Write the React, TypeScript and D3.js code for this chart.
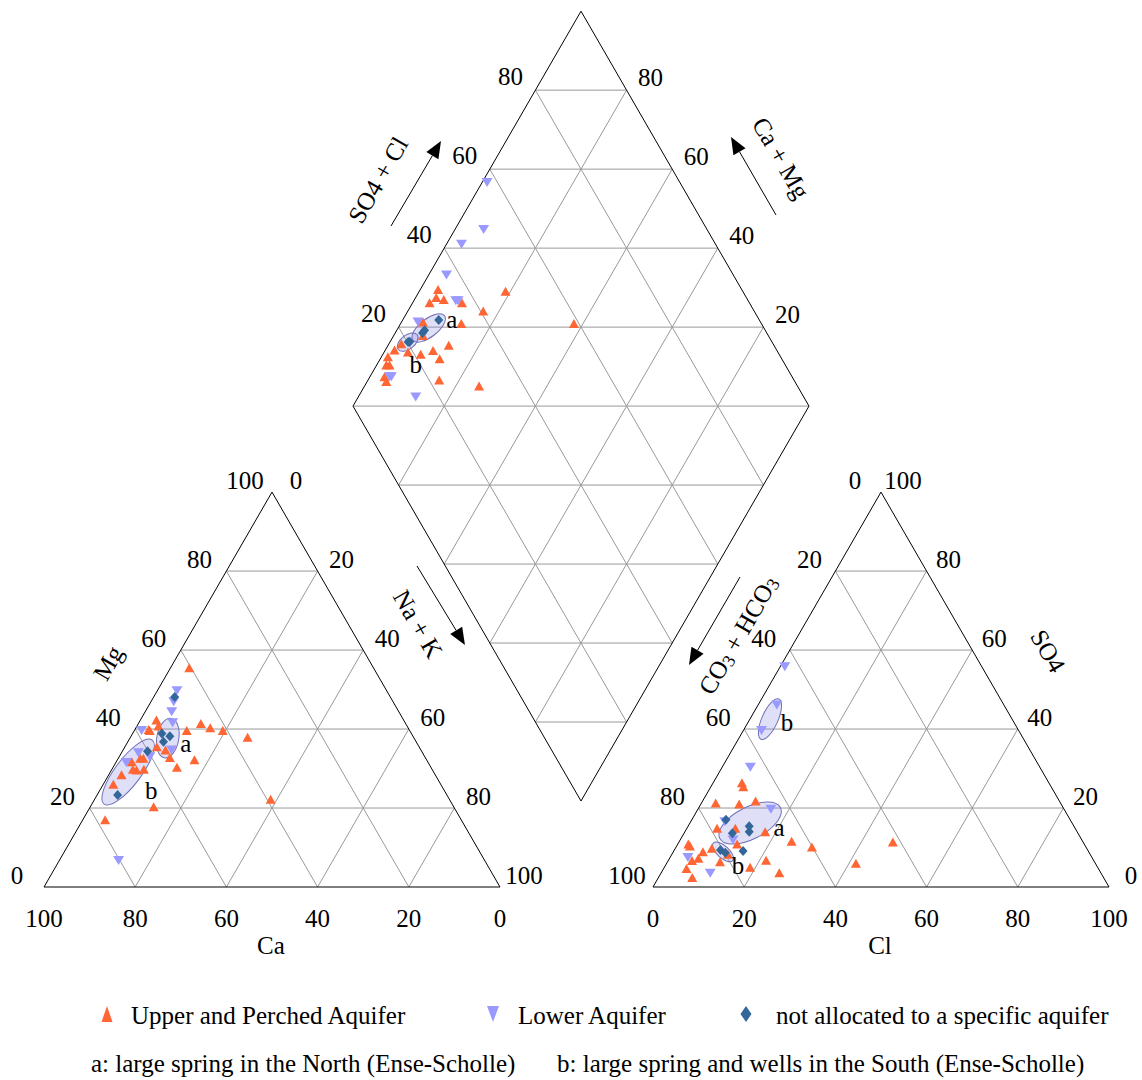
import React from 'react';
import * as d3 from 'd3';

// ---------------- DATA ----------------
const tickValues = [0, 20, 40, 60, 80, 100];
const gridValues = [20, 40, 60, 80];
const diamondTicks = [20, 40, 60, 80];

// Cation triangle points: [Ca %, Mg %]
const cationUpper: [number, number][] = [
  [40.4, 55.5], [44.9, 41.4], [43.4, 40.3], [41.0, 39.6], [36.4, 37.9], [48.9, 39.6],
  [54.2, 42.3], [54.5, 40.8], [57.1, 39.9], [57.0, 39.6], [57.5, 35.5], [56.0, 34.7],
  [56.0, 32.8], [50.9, 32.2], [55.7, 30.3], [62.6, 32.6], [61.9, 32.6], [64.9, 31.7],
  [65.6, 29.8], [64.9, 29.6], [63.2, 29.8], [68.8, 28.4], [71.8, 26.0], [65.8, 20.3],
  [78.1, 17.0], [39.2, 22.2],
];
const cationLower: [number, number][] = [
  [46.0, 49.7], [48.1, 46.9], [49.8, 44.4], [51.0, 41.6], [58.8, 39.6], [54.7, 34.7],
  [60.3, 33.0], [62.3, 34.0], [66.2, 31.5], [80.3, 6.7],
];
const cationUnallocated: [number, number][] = [
  [47.3, 48.1], [54.7, 38.9], [53.3, 38.2], [55.4, 36.8], [60.1, 34.4], [72.2, 23.3],
];

// Anion triangle points: [Cl %, SO4 %]
const anionUpper: [number, number][] = [
  [6.3, 26.4], [7.1, 25.4], [3.1, 21.3], [8.4, 21.0], [11.6, 21.8], [6.6, 14.9],
  [10.6, 14.9], [17.6, 14.0], [24.6, 11.6], [29.8, 10.1], [46.9, 11.4], [13.0, 10.9],
  [8.0, 9.8], [6.5, 8.9], [2.3, 10.9], [2.9, 10.4], [6.3, 7.3], [5.2, 6.7],
  [5.0, 4.7], [12.3, 8.3], [11.5, 6.4], [21.4, 6.8], [18.8, 5.0], [25.9, 3.6],
  [41.5, 6.0], [7.4, 2.4],
];
const anionLower: [number, number][] = [
  [1.0, 55.8], [4.1, 46.1], [4.0, 39.6], [6.2, 30.3], [16.0, 19.7], [7.5, 16.5],
  [11.6, 11.9], [3.9, 7.5], [10.8, 3.5],
];
const anionUnallocated: [number, number][] = [
  [7.5, 17.0], [13.4, 15.4], [14.1, 14.0], [10.6, 13.6], [10.1, 9.4], [11.5, 8.7], [15.2, 9.1],
];

// Diamond points: [SO4+Cl %, Ca+Mg %]
const diamondUpper: [number, number][] = [
  [33.4, 96.1], [32.0, 95.5], [33.4, 93.6], [29.9, 96.3], [37.0, 89.2], [48.0, 81.1],
  [40.6, 83.5], [34.2, 86.7], [58.9, 62.0], [26.0, 95.3], [24.3, 93.6], [18.5, 97.3],
  [16.2, 98.0], [18.9, 94.8], [21.4, 91.7], [24.6, 89.5], [28.7, 86.7], [25.0, 87.0],
  [13.9, 98.6], [12.5, 97.9], [13.2, 97.2], [10.6, 96.8], [10.4, 95.8], [22.2, 84.4],
  [30.2, 74.9],
];
const diamondLower: [number, number][] = [
  [57.7, 98.9], [51.0, 93.7], [44.3, 96.7], [37.1, 96.1], [35.9, 90.8], [36.4, 90.3],
  [24.9, 96.4], [11.7, 95.7], [12.1, 95.3], [14.9, 87.4],
];
const diamondUnallocated: [number, number][] = [
  [29.7, 92.1], [25.3, 93.9], [24.5, 94.0], [20.6, 95.7], [20.2, 96.0],
];

// Group outlines (centres in data units)
const cationGroups = [
  { label: 'a', center: [54.0, 37.7] as [number, number] },
  { label: 'b', center: [67.0, 29.1] as [number, number] },
];
const anionGroups = [
  { label: 'b', center: [4.4, 42.5] as [number, number] },
  { label: 'a', center: [13.2, 16.2] as [number, number] },
  { label: 'b', center: [10.9, 8.9] as [number, number] },
];
const diamondGroups = [
  { label: 'a', center: [26.5, 93.3] as [number, number] },
  { label: 'b', center: [20.1, 96.1] as [number, number] },
];

const legendItems = [
  'Upper and Perched Aquifer',
  'Lower Aquifer',
  'not allocated to a specific aquifer',
];
const noteItems = [
  'a: large spring in the North (Ense-Scholle)',
  'b: large spring and wells in the South (Ense-Scholle)',
];

// ---------------- LAYOUT ----------------
const W = 1142;
const HGT = 1080;
const SIDE = 456;
const TH = (SIDE * Math.sqrt(3)) / 2;
const LX0 = 44, LY0 = 887;     // cation triangle bottom-left
const RX0 = 653, RY0 = 887;    // anion triangle bottom-left
const DBX = 581, DBY = 801;    // diamond bottom vertex

const s = d3.scaleLinear().domain([0, 100]).range([0, SIDE]);
const h = d3.scaleLinear().domain([0, 100]).range([0, TH]);

const COL_UP = '#FF6633';
const COL_LOW = '#9999FF';
const COL_UN = '#336699';
const GRID = '#999999';
const FONT = '"Liberation Serif", "Times New Roman", serif';
const FS = 25;

// projections
const cat = (ca: number, mg: number): [number, number] => [LX0 + s(100 - ca - mg / 2), LY0 - h(mg)];
const an = (cl: number, so4: number): [number, number] => [RX0 + s(cl + so4 / 2), RY0 - h(so4)];
const dia = (a: number, c: number): [number, number] => [DBX + (s(a) - s(c)) / 2, DBY - h(a) - h(c)];

const upTri = (x: number, y: number, w = 10, t = 9) =>
  `M${x},${y - t / 2}L${x + w / 2},${y + t / 2}L${x - w / 2},${y + t / 2}Z`;
const downTri = (x: number, y: number, w = 11, t = 9) =>
  `M${x - w / 2},${y - t / 2}L${x + w / 2},${y - t / 2}L${x},${y + t / 2}Z`;
const diam = (x: number, y: number, w = 9, t = 10) =>
  `M${x},${y - t / 2}L${x + w / 2},${y}L${x},${y + t / 2}L${x - w / 2},${y}Z`;

const line = (p: [number, number], q: [number, number], key: string, stroke = GRID, sw = 1) => (
  <line key={key} x1={p[0]} y1={p[1]} x2={q[0]} y2={q[1]} stroke={stroke} strokeWidth={sw} />
);

function Points({ up, low, un, proj }: { up: [number, number][]; low: [number, number][]; un: [number, number][]; proj: (a: number, b: number) => [number, number] }) {
  return (
    <g>
      {up.map((d, i) => { const [x, y] = proj(d[0], d[1]); return <path key={'u' + i} d={upTri(x, y)} fill={COL_UP} />; })}
      {low.map((d, i) => { const [x, y] = proj(d[0], d[1]); return <path key={'l' + i} d={downTri(x, y)} fill={COL_LOW} />; })}
      {un.map((d, i) => { const [x, y] = proj(d[0], d[1]); return <path key={'n' + i} d={diam(x, y)} fill={COL_UN} />; })}
    </g>
  );
}

function Arrow({ from, to }: { from: [number, number]; to: [number, number] }) {
  const ang = Math.atan2(to[1] - from[1], to[0] - from[0]);
  const L = 17, Wd = 7;
  const bx = to[0] - L * Math.cos(ang), by = to[1] - L * Math.sin(ang);
  const px = -Math.sin(ang) * Wd, py = Math.cos(ang) * Wd;
  return (
    <g>
      <line x1={from[0]} y1={from[1]} x2={bx} y2={by} stroke="#000" strokeWidth={1} />
      <path d={`M${to[0]},${to[1]}L${bx + px},${by + py}L${bx - px},${by - py}Z`} fill="#000" />
    </g>
  );
}

const Ell = ({ c, rx, ry, rot }: { c: [number, number]; rx: number; ry: number; rot: number }) => (
  <ellipse cx={0} cy={0} rx={rx} ry={ry} transform={`translate(${c[0]},${c[1]}) rotate(${rot})`}
    fill="#8080E0" fillOpacity={0.25} stroke="#7070B8" strokeWidth={1} />
);

export default function App() {
  const els: React.ReactNode[] = [];

  gridValues.forEach((v) => {
    els.push(line(cat(100 - v, v), cat(0, v), 'cm' + v));
    els.push(line(cat(v, 0), cat(v, 100 - v), 'cc' + v));
    els.push(line(cat(100 - v, 0), cat(0, 100 - v), 'cn' + v));
    els.push(line(an(0, v), an(100 - v, v), 'as' + v));
    els.push(line(an(v, 0), an(v, 100 - v), 'ac' + v));
    els.push(line(an(100 - v, 0), an(0, 100 - v), 'ah' + v));
    els.push(line(dia(v, 0), dia(v, 100), 'da' + v));
    els.push(line(dia(0, v), dia(100, v), 'dc' + v));
  });
  for (let k = 20; k <= 180; k += 20) {
    const a0 = Math.max(0, k - 100), a1 = Math.min(100, k);
    els.push(line(dia(a0, k - a0), dia(a1, k - a1), 'dh' + k));
  }

  const outline = (pts: [number, number][], key: string) => (
    <path key={key} d={'M' + pts.map((p) => p.join(',')).join('L') + 'Z'} fill="none" stroke="#000" strokeWidth={1} />
  );

  const txt = (x: number, y: number, t: React.ReactNode, key: string, anchor = 'middle', rot = 0, fs = FS) => (
    <text key={key} x={0} y={0} transform={`translate(${x},${y}) rotate(${rot})`} textAnchor={anchor}
      dominantBaseline="central" fontFamily={FONT} fontSize={fs} fill="#000">{t}</text>
  );

  const labels: React.ReactNode[] = [];
  tickValues.forEach((v) => {
    const b = cat(v, 0);
    labels.push(txt(b[0], b[1] + 31, String(v), 'cb' + v));
    const l = cat(100 - v, v);
    labels.push(txt(l[0] - 27, l[1] - 12, String(v), 'cl' + v));
    const r = cat(0, 100 - v);
    labels.push(txt(r[0] + 24, r[1] - 12, String(v), 'cr' + v));
    const ab = an(v, 0);
    labels.push(txt(ab[0], ab[1] + 31, String(v), 'ab' + v));
    const al = an(0, 100 - v);
    labels.push(txt(al[0] - 26, al[1] - 12, String(v), 'al' + v));
    const ar = an(100 - v, v);
    labels.push(txt(ar[0] + 22, ar[1] - 12, String(v), 'ar' + v));
  });
  diamondTicks.forEach((v) => {
    const l = dia(v, 100);
    labels.push(txt(l[0] - 25, l[1] - 14, String(v), 'dl' + v));
    const r = dia(100, v);
    labels.push(txt(r[0] + 24, r[1] - 13, String(v), 'dr' + v));
  });

  return (
    <svg width={W} height={HGT} style={{ position: 'absolute', left: 0, top: 0, background: '#fff' }}>
      <rect x={0} y={0} width={W} height={HGT} fill="#fff" />
      {els}
      {outline([cat(100, 0), cat(0, 0), cat(0, 100)], 'ot1')}
      {outline([an(0, 0), an(100, 0), an(0, 100)], 'ot2')}
      {outline([dia(0, 0), dia(100, 0), dia(100, 100), dia(0, 100)], 'ot3')}

      <Ell c={cat(...cationGroups[0].center)} rx={20} ry={11} rot={-80} />
      <Ell c={cat(...cationGroups[1].center)} rx={40} ry={13} rot={-53} />
      <Ell c={an(...anionGroups[0].center)} rx={22} ry={8} rot={-66} />
      <Ell c={an(...anionGroups[1].center)} rx={34} ry={16} rot={-27} />
      <Ell c={an(...anionGroups[2].center)} rx={13} ry={6} rot={42} />
      <Ell c={dia(...diamondGroups[0].center)} rx={20} ry={9} rot={-38} />
      <Ell c={dia(...diamondGroups[1].center)} rx={12} ry={7} rot={-38} />

      <Points up={cationUpper} low={cationLower} un={cationUnallocated} proj={cat} />
      <Points up={anionUpper} low={anionLower} un={anionUnallocated} proj={an} />
      <Points up={diamondUpper} low={diamondLower} un={diamondUnallocated} proj={dia} />

      {(() => { const p = cat(...cationGroups[0].center); return txt(p[0] + 18, p[1] + 5, cationGroups[0].label, 'ga1'); })()}
      {(() => { const p = cat(...cationGroups[1].center); return txt(p[0] + 23, p[1] + 18, cationGroups[1].label, 'gb1'); })()}
      {(() => { const p = an(...anionGroups[0].center); return txt(p[0] + 17, p[1] + 3, anionGroups[0].label, 'gb2'); })()}
      {(() => { const p = an(...anionGroups[1].center); return txt(p[0] + 29, p[1] + 4, anionGroups[1].label, 'ga2'); })()}
      {(() => { const p = an(...anionGroups[2].center); return txt(p[0] + 15, p[1] + 14, anionGroups[2].label, 'gb3'); })()}
      {(() => { const p = dia(...diamondGroups[0].center); return txt(p[0] + 23, p[1] - 8, diamondGroups[0].label, 'ga3'); })()}
      {(() => { const p = dia(...diamondGroups[1].center); return txt(p[0] + 8, p[1] + 22, diamondGroups[1].label, 'gb4'); })()}

      {labels}

      {txt(271, 945, 'Ca', 'tCa')}
      {txt(880, 945, 'Cl', 'tCl')}
      {txt(108, 663, 'Mg', 'tMg', 'middle', -60)}
      {txt(1048, 651, 'SO4', 'tSO4', 'middle', 60)}
      {txt(378, 180, 'SO4 + Cl', 'tSC', 'middle', -60)}
      {txt(781, 158, 'Ca + Mg', 'tCM', 'middle', 60)}
      {txt(418, 624, 'Na + K', 'tNK', 'middle', 60)}
      {txt(738, 635, <>CO<tspan fontSize={18} dy={5}>3</tspan><tspan dy={-5}> + HCO</tspan><tspan fontSize={18} dy={5}>3</tspan></>, 'tCO', 'middle', -60)}

      <Arrow from={[391, 226]} to={[441, 141]} />
      <Arrow from={[776, 215]} to={[731, 137]} />
      <Arrow from={[417, 566]} to={[465, 645]} />
      <Arrow from={[740, 577]} to={[689, 665]} />

      <path d={upTri(107, 1014, 11, 16)} fill={COL_UP} />
      {txt(131, 1015, legendItems[0], 'lg0', 'start')}
      <path d={downTri(493, 1014, 12, 16)} fill={COL_LOW} />
      {txt(518, 1015, legendItems[1], 'lg1', 'start')}
      <path d={diam(746, 1014, 11, 16)} fill={COL_UN} />
      {txt(776, 1015, legendItems[2], 'lg2', 'start')}
      {txt(91, 1063, noteItems[0], 'nt0', 'start')}
      {txt(557, 1063, noteItems[1], 'nt1', 'start')}
    </svg>
  );
}
